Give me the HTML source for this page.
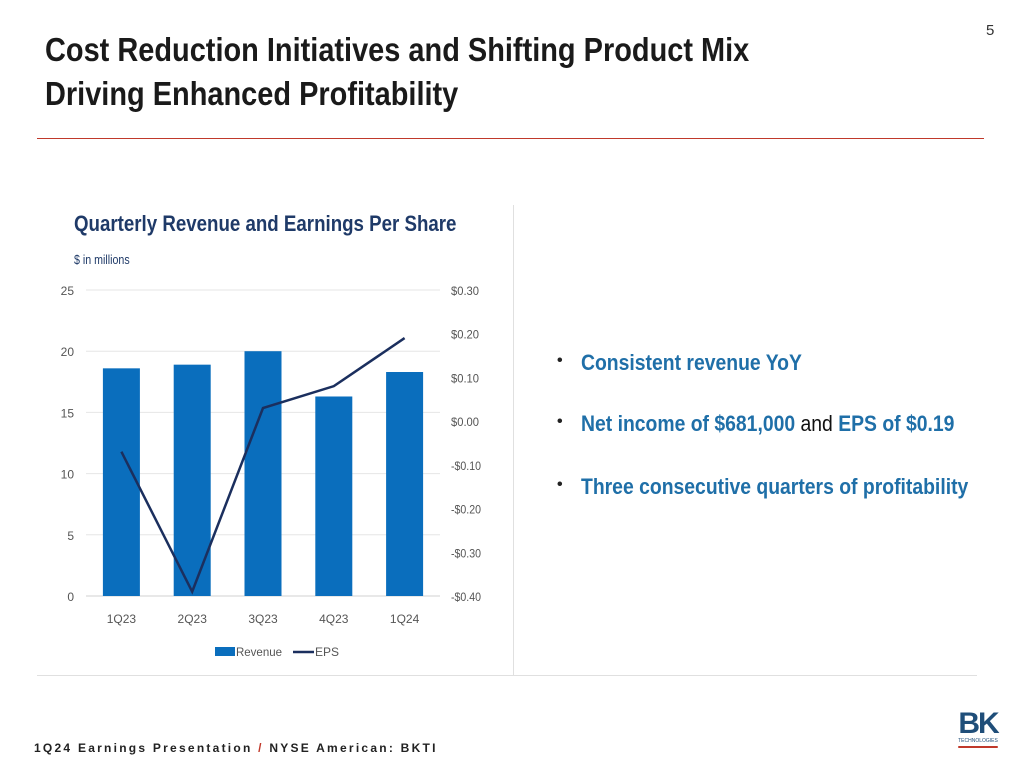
<!DOCTYPE html>
<html><head><meta charset="utf-8">
<style>
body{margin:0;width:1024px;height:768px;background:#fff;position:relative;overflow:hidden;font-family:"Liberation Sans",sans-serif;}
.abs{position:absolute;}
.sx{transform-origin:0 0;white-space:nowrap}
h1{position:absolute;left:45px;top:28px;margin:0;font-size:33px;line-height:44px;color:#1a1a1a;font-weight:bold;transform:scaleX(0.877);transform-origin:0 0;white-space:nowrap}
.bul{position:absolute;left:557px;font-size:22px;font-weight:bold;color:#1f6fa8;}
.bul span.dot{position:absolute;left:0;color:#222;font-size:16px;top:2px}
.bul span.t{position:absolute;left:24px;white-space:nowrap;transform:scaleX(0.88);transform-origin:0 0}
</style></head><body>
<h1>Cost Reduction Initiatives and Shifting Product Mix<br>Driving Enhanced Profitability</h1>
<div class="abs" style="left:986px;top:22px;font-size:15px;color:#333">5</div>
<div class="abs" style="left:37px;top:138px;width:947px;height:1px;background:#c0392b"></div>
<div class="abs" style="left:513px;top:205px;width:1px;height:470px;background:#e0e0e0"></div>
<div class="abs" style="left:37px;top:675px;width:940px;height:1px;background:#e0e0e0"></div>
<div class="abs sx" style="left:74px;top:211px;font-size:22px;font-weight:bold;color:#1f3a68;transform:scaleX(0.85)">Quarterly Revenue and Earnings Per Share</div>
<div class="abs sx" style="left:74px;top:252px;font-size:13px;color:#1f3a68;transform:scaleX(0.82)">$ in millions</div>
<svg class="abs" style="left:0;top:0" width="1024" height="768" id="chart"></svg>
<div class="bul" style="top:350px"><span class="dot">•</span><span class="t">Consistent revenue YoY</span></div>
<div class="bul" style="top:411px"><span class="dot">•</span><span class="t">Net income of $681,000 <span style="color:#111;font-weight:normal">and</span> EPS of $0.19</span></div>
<div class="bul" style="top:474px"><span class="dot">•</span><span class="t">Three consecutive quarters of profitability</span></div>
<div class="abs" style="left:34px;top:741px;font-size:12px;font-weight:bold;letter-spacing:2.25px;color:#222;white-space:nowrap">1Q24 Earnings Presentation <span style="color:#c0392b">/</span> NYSE American: BKTI</div>
<div class="abs" style="left:958px;top:710px;width:40px;text-align:center">
<div style="font-size:30px;font-weight:bold;color:#1f4e79;line-height:28px;letter-spacing:-2px">BK</div>
<div style="font-size:5px;color:#1f4e79;line-height:6px">TECHNOLOGIES</div>
<div style="height:2px;background:#c0392b;border-radius:2px;margin-top:2px"></div>
</div>
<script>
const categories=["1Q23","2Q23","3Q23","4Q23","1Q24"];
const revenue=[18.6,18.9,20.0,16.3,18.3];
const eps=[-0.07,-0.39,0.03,0.08,0.19];
const leftTicks=[0,5,10,15,20,25];
const rightTicks=[-0.4,-0.3,-0.2,-0.1,0,0.1,0.2,0.3];
const svg=document.getElementById('chart');
const NS='http://www.w3.org/2000/svg';
const x0=86,x1=440,yTop=290,yBot=596;
const yL=v=>yBot-(v/25)*(yBot-yTop);
const yR=v=>yBot-((v+0.4)/0.7)*(yBot-yTop);
const bw=(x1-x0)/categories.length;
const xc=i=>x0+bw*(i+0.5);
function mk(t,a){const e=document.createElementNS(NS,t);for(const k in a)e.setAttribute(k,a[k]);svg.appendChild(e);return e;}
const txt={'font-family':'"Liberation Sans",sans-serif','font-size':12,fill:'#555'};
leftTicks.forEach(v=>{
 const g=mk('line',{x1:x0,x2:x1,y1:yL(v),y2:yL(v),stroke:v===0?'#d0d0d0':'#e6e6e6','stroke-width':1});
 
 
 const t=mk('text',Object.assign({x:74,y:yL(v)+5,'text-anchor':'end'},txt));t.textContent=v;
 
 
});
rightTicks.forEach(v=>{
 const t=mk('text',Object.assign({x:451,y:yR(v)+5,textLength:v<0?30:28,lengthAdjust:'spacingAndGlyphs'},txt));
 t.textContent=(v<0?'-':'')+'$'+Math.abs(v).toFixed(2);
 
 
});
revenue.forEach((v,i)=>{
 const r=mk('rect',{x:xc(i)-18.5,y:yL(v),width:37,height:yBot-yL(v),fill:'#0a6ebd'});
 
 
 const t=mk('text',Object.assign({x:xc(i),y:623,'text-anchor':'middle'},txt));t.textContent=categories[i];
 
 
});
const p=mk('polyline',{points:eps.map((v,i)=>xc(i)+','+yR(v)).join(' '),fill:'none',stroke:'#1b2f5e','stroke-width':2.5});


const lr=mk('rect',{x:215,y:647,width:20,height:9,fill:'#0a6ebd'});


const lt=mk('text',Object.assign({x:236,y:656,textLength:46,lengthAdjust:'spacingAndGlyphs'},txt));lt.textContent='Revenue';


const ll=mk('line',{x1:293,x2:314,y1:652,y2:652,stroke:'#1b2f5e','stroke-width':2.5});


const le=mk('text',Object.assign({x:315,y:656},txt));le.textContent='EPS';


</script>
</body></html>
